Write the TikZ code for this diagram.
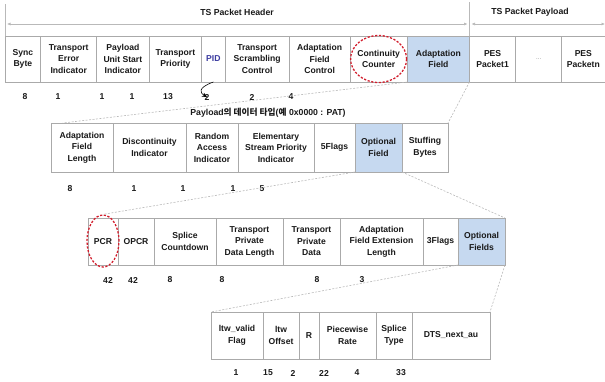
\documentclass[tikz,border=0pt]{standalone}
\usepackage{fontspec}
\setmainfont{Liberation Sans}
\newfontfamily\krfont{Noto Sans CJK KR}
\usetikzlibrary{arrows.meta,calc,shapes.geometric}
\definecolor{txt}{RGB}{25,25,25}
\definecolor{cellline}{RGB}{170,170,170}
\definecolor{hilite}{RGB}{198,217,240}
\definecolor{pidblue}{RGB}{60,60,160}
\definecolor{ringred}{RGB}{210,30,45}
\definecolor{guide}{RGB}{185,185,185}
\tikzset{
  cell/.style={draw=cellline, line width=0.8pt, anchor=north west, inner sep=0pt, outer sep=0pt,
    align=center, text=txt, font=\bfseries\fontsize{8.6}{11.5}\selectfont},
  hicell/.style={cell, fill=hilite},
  num/.style={text=txt, font=\bfseries\fontsize{8.6}{10}\selectfont, inner sep=0pt},
  caption/.style={text=txt, font=\bfseries\fontsize{8.7}{10}\selectfont, inner sep=0pt},
  ring/.style={draw=ringred, line width=1.3pt, dash pattern=on 2.2pt off 1.6pt, ellipse, inner sep=0pt},
  zoomline/.style={draw=guide, line width=0.6pt, dash pattern=on 2pt off 1.5pt},
  span/.style={draw=guide, line width=0.6pt, {Latex[length=3.5pt,width=3pt]}-{Latex[length=3.5pt,width=3pt]}},
}
\begin{document}
\begin{tikzpicture}[x=1pt,y=-1pt]
\useasboundingbox (0,0) rectangle (605,381);

% ---------- header spans ----------
\coordinate (hl) at (5,24);
\coordinate (hm) at (469.5,24);
\coordinate (hr) at (605,24);
\draw[guide, line width=0.6pt] (5,4) -- (5,36);
\draw[guide, line width=0.6pt] (469.5,2) -- (469.5,36);
\draw[span] ($(hl)+(2,0)$) -- ($(hm)+(-2,0)$);
\draw[span] ($(hm)+(2,0)$) -- (hr);
\node[caption] (hdr) at (237,12) {TS Packet Header};
\node[caption] (pay) at (530,12) {TS Packet Payload};

% ---------- row 1: TS packet ----------
\node[cell, minimum width=35.7pt, minimum height=46pt] (sync) at (5,36) {Sync\\Byte};
\node[cell, minimum width=56pt, minimum height=46pt] (tei) at (40.7,36) {Transport\\Error\\Indicator};
\node[cell, minimum width=52.3pt, minimum height=46pt] (pusi) at (96.7,36) {Payload\\Unit Start\\Indicator};
\node[cell, minimum width=52.7pt, minimum height=46pt] (tp) at (149,36) {Transport\\Priority};
\node[cell, minimum width=23.3pt, minimum height=46pt, text=pidblue] (pid) at (201.7,36) {PID};
\node[cell, minimum width=64.3pt, minimum height=46pt] (tsc) at (225,36) {Transport\\Scrambling\\Control};
\node[cell, minimum width=60.7pt, minimum height=46pt] (afc) at (289.3,36) {Adaptation\\Field\\Control};
\node[cell, minimum width=57.3pt, minimum height=46pt] (cc) at (350,36) {Continuity\\Counter};
\node[hicell, minimum width=62.2pt, minimum height=46pt] (af) at (407.3,36) {Adaptation\\Field};
\node[cell, minimum width=46.2pt, minimum height=46pt] (pes1) at (469.5,36) {PES\\Packet1};
\node[cell, minimum width=46pt, minimum height=46pt, font=\fontsize{6}{8}\selectfont, text=gray] (dots) at (515.7,36) {...};
\node[cell, minimum width=43.3pt, minimum height=46pt] (pesn) at (561.7,36) {PES\\Packetn};
\node[ring, minimum width=56pt, minimum height=47pt] (ccring) at (378.6,59) {};

\foreach \x/\t [count=\i] in {25/8,58/1,102/1,132/1,168/13,207/2,252/2,291/4}
  \node[num] (na\i) at (\x,97) {\t};

\draw[-{Stealth[length=5pt,width=4.5pt]}, line width=0.6pt] (pid.south)
  .. controls (197,88) and (200,93) .. (na6.center);
\node[caption] (ptype) at (268,113)
  {Payload{\krfont\bfseries 의 데이터 타입}({\krfont\bfseries 예} 0x0000 : PAT)};

% ---------- row 2: adaptation field ----------
\node[cell, minimum width=62pt, minimum height=49pt] (afl) at (51,123) {Adaptation\\Field\\Length};
\node[cell, minimum width=73pt, minimum height=49pt] (disc) at (113,123) {Discontinuity\\Indicator};
\node[cell, minimum width=52pt, minimum height=49pt] (rai) at (186,123) {Random\\Access\\Indicator};
\node[cell, minimum width=76pt, minimum height=49pt] (espi) at (238,123) {Elementary\\Stream Priority\\Indicator};
\node[cell, minimum width=41pt, minimum height=49pt] (f5) at (314,123) {5Flags};
\node[hicell, minimum width=47pt, minimum height=49pt] (optf) at (355,123) {Optional\\Field};
\node[cell, minimum width=46pt, minimum height=49pt] (stuff) at (402,123) {Stuffing\\Bytes};

\foreach \x/\t [count=\i] in {70/8,134/1,183/1,233/1,262/5}
  \node[num] (nb\i) at (\x,189) {\t};

\draw[zoomline] (cc.south east) -- ($(afl.north west)!0.19!(afl.north east)$);
\draw[zoomline] (af.south east) -- (stuff.north east);

% ---------- row 3: optional field ----------
\node[cell, minimum width=30pt, minimum height=47pt] (pcr) at (88,218) {PCR};
\node[cell, minimum width=36pt, minimum height=47pt] (opcr) at (118,218) {OPCR};
\node[cell, minimum width=62pt, minimum height=47pt] (spc) at (154,218) {Splice\\Countdown};
\node[cell, minimum width=67pt, minimum height=47pt] (tpdl) at (216,218) {Transport\\Private\\Data Length};
\node[cell, minimum width=57pt, minimum height=47pt] (tpd) at (283,218) {Transport\\Private\\Data};
\node[cell, minimum width=83pt, minimum height=47pt] (afel) at (340,218) {Adaptation\\Field Extension\\Length};
\node[cell, minimum width=35pt, minimum height=47pt] (f3) at (423,218) {3Flags};
\node[hicell, minimum width=47pt, minimum height=47pt] (optfs) at (458,218) {Optional\\Fields};
\node[ring, minimum width=32pt, minimum height=52pt] (pcrring) at (103,241) {};

\foreach \x/\t [count=\i] in {108/42,133/42,170/8,222/8,317/8,362/3}
  \node[num] (nc\i) at (\x,280) {\t};

\draw[zoomline] (optf.south west) -- (pcrring.north);
\draw[zoomline] (optf.south east) -- (optfs.north east);

% ---------- row 4: optional fields ----------
\node[cell, minimum width=52pt, minimum height=47pt] (ltwv) at (211,312) {ltw\_valid\\Flag};
\node[cell, minimum width=36pt, minimum height=47pt] (ltwo) at (263,312) {ltw\\Offset};
\node[cell, minimum width=20pt, minimum height=47pt] (rsv) at (299,312) {R};
\node[cell, minimum width=57pt, minimum height=47pt] (pwr) at (319,312) {Piecewise\\Rate};
\node[cell, minimum width=36pt, minimum height=47pt] (spt) at (376,312) {Splice\\Type};
\node[cell, minimum width=78pt, minimum height=47pt] (dts) at (412,312) {DTS\_next\_au};

\foreach \x/\t [count=\i] in {236/1,268/15,293/2,324/22,357/4,401/33}
  \node[num] (nd\i) at (\x,373) {\t};

\draw[zoomline] (optfs.south west) -- (ltwv.north west);
\draw[zoomline] (optfs.south east) -- (dts.north east);
\end{tikzpicture}
\end{document}
